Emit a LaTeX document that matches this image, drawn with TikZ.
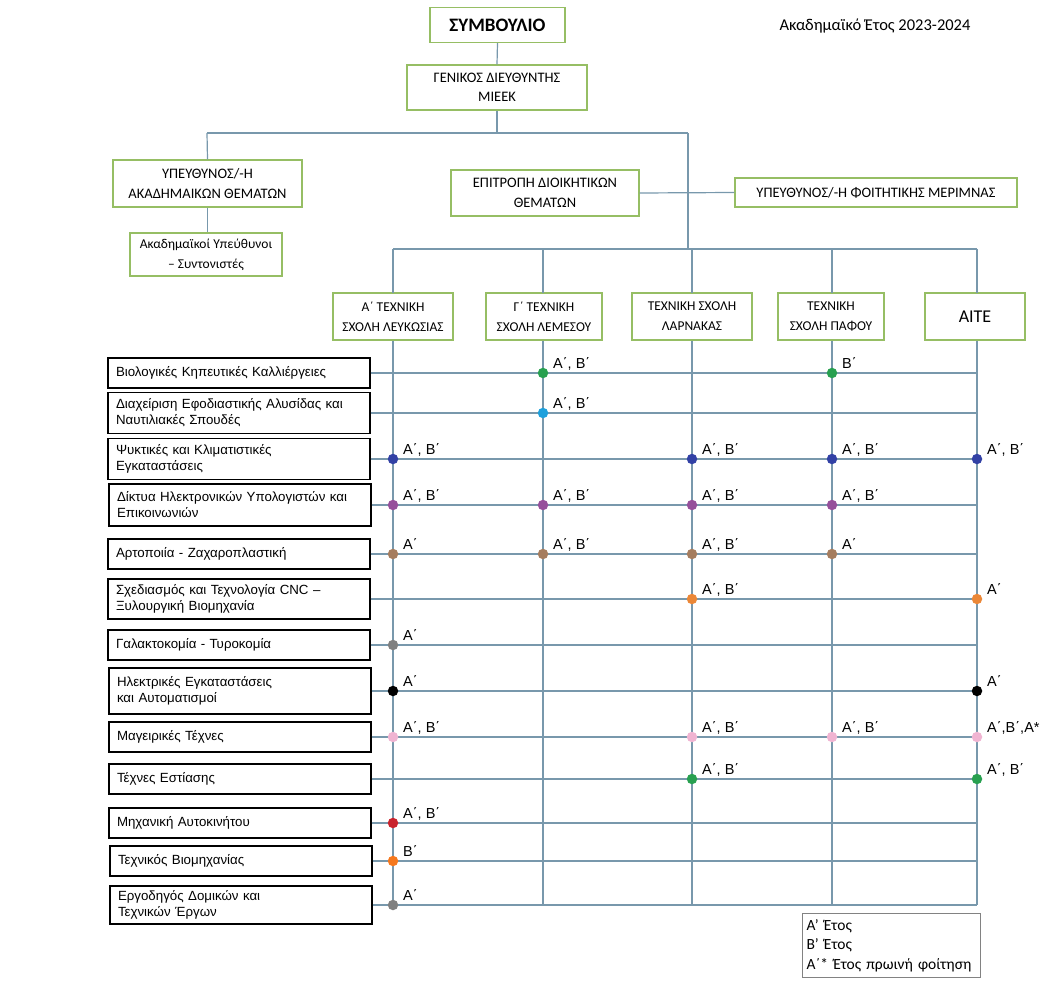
\documentclass[tikz,border=0pt]{standalone}
\usepackage{fontspec}
\setmainfont{Carlito}
\newfontfamily\arialf{Liberation Sans}
\definecolor{boxgreen}{RGB}{150,190,100}
\definecolor{linec}{RGB}{120,152,172}
\definecolor{dgreen}{RGB}{40,160,80}
\definecolor{dcyan}{RGB}{30,160,220}
\definecolor{dnavy}{RGB}{50,65,165}
\definecolor{dpurple}{RGB}{150,80,155}
\definecolor{dbrown}{RGB}{165,125,95}
\definecolor{dorange}{RGB}{235,135,55}
\definecolor{dgrey}{RGB}{128,128,128}
\definecolor{dpink}{RGB}{240,180,210}
\definecolor{dred}{RGB}{200,35,45}
\definecolor{dorange2}{RGB}{245,120,30}
\definecolor{leggrey}{RGB}{130,130,130}
\begin{document}
\begin{tikzpicture}[x=1pt,y=-1pt,
  gbox/.style={draw=boxgreen,line width=1.2pt,fill=white,align=center,inner sep=0pt,
    font=\fontsize{14.5}{19.5}\selectfont},
  sbox/.style={gbox,minimum height=47,font=\fontsize{13.5}{20}\selectfont},
  rbox/.style={draw=black,line width=1.2pt,fill=white,align=left,inner xsep=8pt,inner ysep=0pt,
    text width=246pt,minimum width=262pt,font=\arialf\fontsize{13.3}{16}\selectfont},
  conn/.style={draw=linec,line width=1.2pt},
  gridl/.style={draw=linec,line width=1.2pt},
  dotn/.style={circle,fill=#1,inner sep=0pt,minimum size=10.5pt},
  lab/.style={anchor=base west,xshift=10pt,yshift=5pt,inner sep=0pt,font=\arialf\fontsize{14.5}{15}\selectfont}
]
\useasboundingbox (0,0) rectangle (1050,987);

% top hierarchy
\node[gbox,minimum width=135,minimum height=35,font=\bfseries\fontsize{19}{20}\selectfont] (sym) at (497.5,25) {ΣΥΜΒΟΥΛΙΟ};
\node[anchor=base,inner sep=0pt,font=\fontsize{16.5}{18}\selectfont] (year) at (875,31) {Ακαδημαϊκό Έτος 2023-2024};
\node[gbox,minimum width=180,minimum height=45] (gen) at (497,87.5) {ΓΕΝΙΚΟΣ ΔΙΕΥΘΥΝΤΗΣ\\ΜΙΕΕΚ};
\coordinate (hb) at (497,133);
\coordinate (hl) at (207,133);
\coordinate (hr) at (688,133);
\node[gbox,minimum width=189,minimum height=47] (acad) at (207.5,183.5) {ΥΠΕΥΘΥΝΟΣ/-Η\\ΑΚΑΔΗΜΑΙΚΩΝ ΘΕΜΑΤΩΝ};
\node[gbox,minimum width=152,minimum height=43,font=\fontsize{13.5}{20}\selectfont] (coord) at (206,254.5) {Ακαδημαϊκοί Υπεύθυνοι\\– Συντονιστές};
\node[gbox,minimum width=188,minimum height=46] (epi) at (545,193) {ΕΠΙΤΡΟΠΗ ΔΙΟΙΚΗΤΙΚΩΝ\\ΘΕΜΑΤΩΝ};
\node[gbox,minimum width=282,minimum height=29] (foit) at (876,192.5) {ΥΠΕΥΘΥΝΟΣ/-Η ΦΟΙΤΗΤΙΚΗΣ ΜΕΡΙΜΝΑΣ};
\coordinate (bus) at (688,249);

\draw[conn] (sym.south) -- (gen.north);
\draw[conn] (gen.south) -- (hb);
\draw[conn] (hl) -- (hr);
\draw[conn] (hl) -- (acad.north);
\draw[conn] (acad.south) -- (acad.south |- coord.north);
\draw[conn] (hr) -- (bus);
\draw[conn] (epi.east) -- (foit.west);

% schools
\node[sbox,minimum width=120] (s1) at (393,316.5) {Α΄ ΤΕΧΝΙΚΗ\\ΣΧΟΛΗ ΛΕΥΚΩΣΙΑΣ};
\node[sbox,minimum width=116] (s2) at (544,316.5) {Γ΄ ΤΕΧΝΙΚΗ\\ΣΧΟΛΗ ΛΕΜΕΣΟΥ};
\node[sbox,minimum width=120] (s3) at (692,316.5) {ΤΕΧΝΙΚΗ ΣΧΟΛΗ\\ΛΑΡΝΑΚΑΣ};
\node[sbox,minimum width=106] (s4) at (831,316.5) {ΤΕΧΝΙΚΗ\\ΣΧΟΛΗ ΠΑΦΟΥ};
\node[sbox,minimum width=100,font=\fontsize{18}{20}\selectfont] (s5) at (975,316.5) {ΑΙΤΕ};

\coordinate (busL) at (393,249);
\coordinate (busR) at (977,249);
\draw[conn] (busL) -- (busR);
\foreach \s/\x in {s1/393,s2/543,s3/692,s4/832,s5/977}{
  \draw[conn] (\x,249) -- (\x,293);
}

% rows
\node[rbox,minimum height=30] (r1) at (239,373) {Βιολογικές Κηπευτικές Καλλιέργειες};
\node[rbox,minimum height=41] (r2) at (239,413) {Διαχείριση Εφοδιαστικής Αλυσίδας και\\Ναυτιλιακές Σπουδές};
\node[rbox,minimum height=41] (r3) at (239,459) {Ψυκτικές και Κλιματιστικές\\Εγκαταστάσεις};
\node[rbox,minimum height=42] (r4) at (240,505) {Δίκτυα Ηλεκτρονικών Υπολογιστών και\\Επικοινωνιών};
\node[rbox,minimum height=30] (r5) at (239,554) {Αρτοποιία - Ζαχαροπλαστική};
\node[rbox,minimum height=40] (r6) at (239,599) {Σχεδιασμός και Τεχνολογία CNC –\\Ξυλουργική Βιομηχανία};
\node[rbox,minimum height=30] (r7) at (239,645) {Γαλακτοκομία - Τυροκομία};
\node[rbox,minimum height=46] (r8) at (240,691) {Ηλεκτρικές Εγκαταστάσεις\\και Αυτοματισμοί};
\node[rbox,minimum height=30] (r9) at (240,737) {Μαγειρικές Τέχνες};
\node[rbox,minimum height=30] (r10) at (240,779) {Τέχνες Εστίασης};
\node[rbox,minimum height=30] (r11) at (240,823) {Μηχανική Αυτοκινήτου};
\node[rbox,minimum height=30] (r12) at (241,861) {Τεχνικός Βιομηχανίας};
\node[rbox,minimum height=38] (r13) at (241,905) {Εργοδηγός Δομικών και\\Τεχνικών Έργων};

% column lines
\foreach \s/\x in {s1/393,s2/543,s3/692,s4/832,s5/977}{
  \coordinate (b\s) at (\x,905);
}
\draw[gridl] (s1.south) -- (bs1);
\draw[gridl] ([xshift=-1pt]s2.south) -- (bs2);
\draw[gridl] (s3.south) -- (bs3);
\draw[gridl] ([xshift=1pt]s4.south) -- (bs4);
\draw[gridl] ([xshift=2pt]s5.south) -- (bs5);

% horizontal lines
\foreach \r in {r1,r2,r3,r4,r5,r6,r7,r8,r9,r10,r11,r12,r13}{
  \draw[gridl] (\r.east) -- (\r.east -| bs5);
}

% dots and labels
\newcommand{\mydot}[5]{% name, row, col, colour, label
  \node[dotn=#4] (#1) at (#2.east -| b#3) {};
  \node[lab] (#1l) at (#1) {#5};
}
\mydot{a1}{r1}{s2}{dgreen}{Α΄, Β΄}
\mydot{a2}{r1}{s4}{dgreen}{Β΄}
\mydot{b1}{r2}{s2}{dcyan}{Α΄, Β΄}
\mydot{c1}{r3}{s1}{dnavy}{Α΄, Β΄}
\mydot{c2}{r3}{s3}{dnavy}{Α΄, Β΄}
\mydot{c3}{r3}{s4}{dnavy}{Α΄, Β΄}
\mydot{c4}{r3}{s5}{dnavy}{Α΄, Β΄}
\mydot{e1}{r4}{s1}{dpurple}{Α΄, Β΄}
\mydot{e2}{r4}{s2}{dpurple}{Α΄, Β΄}
\mydot{e3}{r4}{s3}{dpurple}{Α΄, Β΄}
\mydot{e4}{r4}{s4}{dpurple}{Α΄, Β΄}
\mydot{f1}{r5}{s1}{dbrown}{Α΄}
\mydot{f2}{r5}{s2}{dbrown}{Α΄, Β΄}
\mydot{f3}{r5}{s3}{dbrown}{Α΄, Β΄}
\mydot{f4}{r5}{s4}{dbrown}{Α΄}
\mydot{g1}{r6}{s3}{dorange}{Α΄, Β΄}
\mydot{g2}{r6}{s5}{dorange}{Α΄}
\mydot{h1}{r7}{s1}{dgrey}{Α΄}
\mydot{i1}{r8}{s1}{black}{Α΄}
\mydot{i2}{r8}{s5}{black}{Α΄}
\mydot{j1}{r9}{s1}{dpink}{Α΄, Β΄}
\mydot{j2}{r9}{s3}{dpink}{Α΄, Β΄}
\mydot{j3}{r9}{s4}{dpink}{Α΄, Β΄}
\mydot{j4}{r9}{s5}{dpink}{Α΄,Β΄,Α*}
\mydot{k1}{r10}{s3}{dgreen}{Α΄, Β΄}
\mydot{k2}{r10}{s5}{dgreen}{Α΄, Β΄}
\mydot{m1}{r11}{s1}{dred}{Α΄, Β΄}
\mydot{n1}{r12}{s1}{dorange2}{Β΄}
\mydot{o1}{r13}{s1}{dgrey}{Α΄}

% legend
\node[draw=leggrey,line width=1pt,anchor=north west,minimum width=177,minimum height=64,
  text width=170pt,inner xsep=4pt,inner ysep=3pt,align=left,font=\fontsize{15.5}{19.5}\selectfont] (leg) at (802,913)
  {Α' Έτος\\Β' Έτος\\Α΄* Έτος πρωινή φοίτηση};
\end{tikzpicture}
\end{document}
